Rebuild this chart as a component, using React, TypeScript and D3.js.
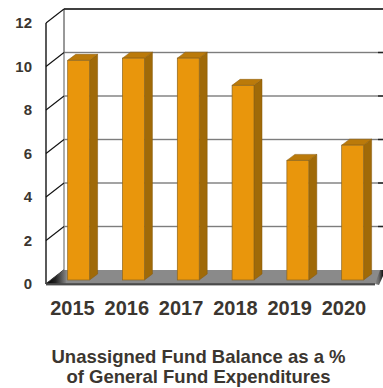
import React from "react";
import * as d3 from "d3";

const years = ["2015", "2016", "2017", "2018", "2019", "2020"];
const balances = [10.1, 10.2, 10.2, 8.95, 5.5, 6.2];
const ticks = [0, 2, 4, 6, 8, 10, 12];
const captionLines = ["Unassigned Fund Balance as a %", "of General Fund Expenditures"];

const W = 383;
const H = 388;
const TEXT = "#3b3630";
const FONT = "'Liberation Sans', Arial, sans-serif";

// Height scale shared by both walls and the columns, offset per plane.
const yFront = d3.scaleLinear().domain([0, 12]).range([284, 23]);
const yBack = (v: number) => yFront(v) - 14;
const yBar = (v: number) => yFront(v) - 4;

const xColumns = d3.scaleBand<string>().domain(years).range([50.7, 380.6]).paddingInner(0.6).paddingOuter(0.31);
const xLabels = d3.scalePoint<string>().domain(years).range([72.5, 344]);
const DEPTH_X = 18;
const COL_DX = 8;
const COL_DY = 6;

export default function App() {
  const x0 = 46;
  const xb = x0 + DEPTH_X;
  const floorFrontRight = 375;
  return (
    <svg width={W} height={H} style={{ position: "absolute", left: 0, top: 0, background: "#fff" }}>
      <defs>
        <linearGradient id="floorCornerL" x1="0" x2="1" y1="0" y2="0">
          <stop offset="0" stopColor="#000" />
          <stop offset="0.45" stopColor="#222" />
          <stop offset="1" stopColor="#8a8a8a" />
        </linearGradient>
        <linearGradient id="floorCornerR" x1="0" x2="1" y1="0" y2="0">
          <stop offset="0" stopColor="#8a8a8a" />
          <stop offset="0.5" stopColor="#666" />
          <stop offset="1" stopColor="#111" />
        </linearGradient>
      </defs>

      {/* back wall grid */}
      {ticks.slice(1, -1).map((t) => (
        <g key={t}>
          <rect x={xb} y={yBack(t) - 0.7} width={W - xb} height={1.4} fill="#7d7d7d" />
          <rect x={W - 5} y={yBack(t) - 0.7} width={5} height={1.4} fill="#222" />
        </g>
      ))}
      <line x1={xb} x2={W} y1={yBack(12)} y2={yBack(12)} stroke="#000" strokeWidth={1.6} />
      <line x1={xb} x2={xb} y1={yBack(12)} y2={yBack(10)} stroke="#333" strokeWidth={1} />
      <line x1={xb} x2={xb} y1={yBack(10)} y2={yBack(0)} stroke="#8c8c8c" strokeWidth={1.4} />

      {/* left wall */}
      <line x1={x0} x2={x0} y1={yFront(12)} y2={yFront(0)} stroke="#000" strokeWidth={1.3} />
      {ticks.map((t) => (
        <line key={t} x1={x0} x2={xb} y1={yFront(t)} y2={yBack(t)} stroke="#111" strokeWidth={1.1} />
      ))}

      {/* floor */}
      <polygon
        points={`${x0},${yFront(0)} ${xb},${yBack(0)} ${W},${yBack(0)} ${W},${yBack(0) + 1} ${floorFrontRight},${yFront(0)}`}
        fill="#8a8a8a"
      />
      <polygon points={`${x0},${yFront(0)} ${xb},${yBack(0)} ${xb + 3},${yBack(0)} ${x0 + 20},${yFront(0)}`} fill="url(#floorCornerL)" />
      <polygon
        points={`${floorFrontRight},${yFront(0)} ${W - 3},${yBack(0)} ${W},${yBack(0)} ${W},${yBack(0) + 6} ${floorFrontRight + 4},${yFront(0) + 1}`}
        fill="url(#floorCornerR)"
      />
      <rect x={x0} y={yFront(0) - 0.8} width={floorFrontRight - x0} height={2.2} fill="#4a4a4a" />

      {/* columns */}
      {years.map((year, i) => {
        const x = xColumns(year)!;
        const w = xColumns.bandwidth();
        const top = yBar(balances[i]);
        const base = yBar(0);
        return (
          <g key={year}>
            <polygon
              points={`${x + w},${top} ${x + w + COL_DX},${top - COL_DY} ${x + w + COL_DX},${base - COL_DY} ${x + w},${base}`}
              fill="#a06a08"
              stroke="#86590a"
              strokeWidth={0.5}
            />
            <polygon
              points={`${x},${top} ${x + COL_DX},${top - COL_DY} ${x + w + COL_DX},${top - COL_DY} ${x + w},${top}`}
              fill="#bb7a0a"
              stroke="#86590a"
              strokeWidth={0.5}
            />
            <rect x={x} y={top} width={w} height={base - top} fill="#e9960c" stroke="#8a6520" strokeWidth={0.7} />
          </g>
        );
      })}

      {/* value axis labels */}
      {ticks.map((t) => (
        <text key={t} x={32} y={yFront(t) + 5} textAnchor="end" fontFamily={FONT} fontWeight={700} fontSize={15} fill={TEXT}>
          {t}
        </text>
      ))}

      {/* year labels */}
      {years.map((year) => (
        <text key={year} x={xLabels(year)} y={315} textAnchor="middle" fontFamily={FONT} fontWeight={700} fontSize={20} fill={TEXT}>
          {year}
        </text>
      ))}

      {/* caption */}
      {captionLines.map((line, i) => (
        <text key={line} x={198.5} y={362.5 + 20.5 * i} textAnchor="middle" fontFamily={FONT} fontWeight={700} fontSize={18.5} fill={TEXT}>
          {line}
        </text>
      ))}
    </svg>
  );
}
